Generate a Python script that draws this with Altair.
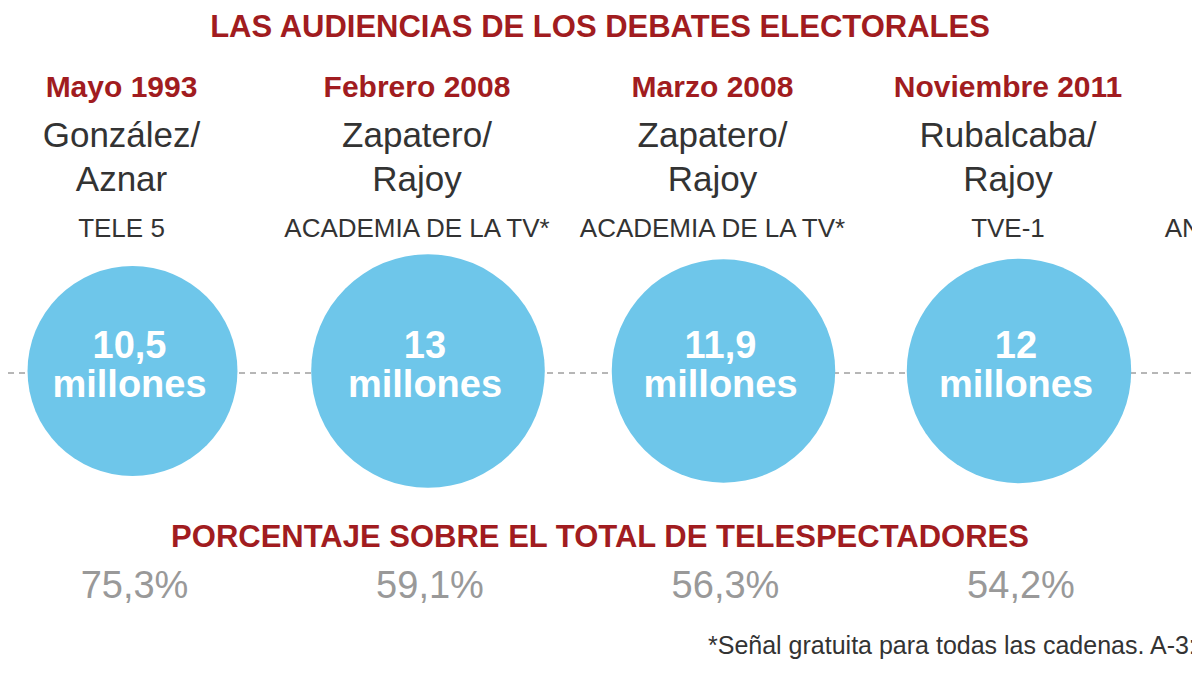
import altair as alt
import pandas as pd

# ---- data ----
fechas = ["Mayo 1993", "Febrero 2008", "Marzo 2008", "Noviembre 2011", "Diciembre 2015"]
candidatos = ["González/\nAznar", "Zapatero/\nRajoy", "Zapatero/\nRajoy", "Rubalcaba/\nRajoy", "Santamaría/\nSánchez"]
cadenas = ["TELE 5", "ACADEMIA DE LA TV*", "ACADEMIA DE LA TV*", "TVE-1", "ANTENA 3 Y LA SEXTA"]
audiencia = [10.5, 13.0, 11.9, 12.0, 9.2]          # millones de espectadores
audiencia_txt = ["10,5", "13", "11,9", "12", "9,2"]
porcentaje_txt = ["75,3%", "59,1%", "56,3%", "54,2%", "48,2%"]

titulo = "LAS AUDIENCIAS DE LOS DEBATES ELECTORALES"
subtitulo = "PORCENTAJE SOBRE EL TOTAL DE TELESPECTADORES"
nota = "*Señal gratuita para todas las cadenas. A-3: Antena 3"

df = pd.DataFrame({
    "i": list(range(len(fechas))),
    "fecha": fechas,
    "cand": candidatos,
    "cadena": cadenas,
    "aud": audiencia,
    "aud_txt": audiencia_txt,
    "pct": porcentaje_txt,
})

W, H = 1184, 655
RED = "#a11c20"
DARK = "#333333"
BLUE = "#6ec6ea"
FONT = "Liberation Sans"
SHIFT = 11   # circles and percentages sit slightly right of the headings

xenc = alt.X("i:Q", scale=alt.Scale(domain=[-0.3841, 3.6227]), axis=None)
base = alt.Chart(df).encode(x=xenc)
# the last debate lies mostly beyond the right edge of the picture
inside = base.transform_filter("datum.i < 4")

single = alt.Chart(pd.DataFrame({"k": [0]}))

rule = single.mark_rule(color="#6f6f6f", strokeWidth=1, strokeDash=[6, 5]).encode(
    x=alt.value(0), x2=alt.value(W), y=alt.value(365)
)

circles = inside.mark_circle(color=BLUE, opacity=1, xOffset=SHIFT).encode(
    y=alt.value(363),
    size=alt.Size("aud:Q", scale=alt.Scale(type="linear", domain=[0, 13], range=[0, 54570]), legend=None),
)

num = inside.mark_text(font=FONT, fontSize=38, fontWeight="bold", color="white", baseline="alphabetic",
                       xOffset=SHIFT - 3).encode(y=alt.value(350), text="aud_txt:N")
mill = inside.mark_text(font=FONT, fontSize=38, fontWeight="bold", color="white", baseline="alphabetic",
                        text="millones", xOffset=SHIFT - 3).encode(y=alt.value(389))

heads = base.mark_text(font=FONT, fontSize=30, fontWeight="bold", color=RED, baseline="alphabetic").encode(
    y=alt.value(89), text="fecha:N"
)
names = inside.mark_text(font=FONT, fontSize=35, color=DARK, baseline="alphabetic", lineBreak="\n", lineHeight=44).encode(
    y=alt.value(139), text="cand:N"
)
nets = base.mark_text(font=FONT, fontSize=26, color=DARK, baseline="alphabetic").encode(
    y=alt.value(229), text="cadena:N"
)
pcts = inside.mark_text(font=FONT, fontSize=38, color="#999999", baseline="alphabetic", xOffset=SHIFT + 2).encode(
    y=alt.value(590), text="pct:N"
)

title = single.mark_text(font=FONT, fontSize=31, fontWeight="bold", color=RED,
                         baseline="alphabetic", text=titulo).encode(x=alt.value(592), y=alt.value(29))
sub = single.mark_text(font=FONT, fontSize=31, fontWeight="bold", color=RED,
                       baseline="alphabetic", text=subtitulo).encode(x=alt.value(592), y=alt.value(539))
foot = single.mark_text(font=FONT, fontSize=25, color=DARK, align="left",
                        baseline="alphabetic", text=nota).encode(x=alt.value(700), y=alt.value(646))

chart = alt.layer(rule, circles, num, mill, heads, names, nets, pcts, title, sub, foot).properties(
    width=W, height=H, autosize=alt.AutoSizeParams(type="none"), padding=0, background="white"
).configure_view(stroke=None)

chart.save("out.html", embed_options={"renderer": "svg", "actions": False})
